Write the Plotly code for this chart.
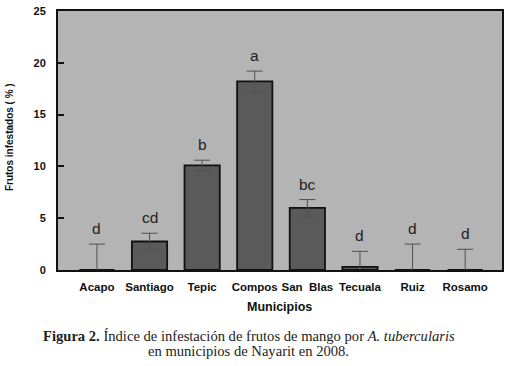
import plotly.graph_objects as go

municipios = ["Acapo", "Santiago", "Tepic", "Compos", "San  Blas", "Tecuala", "Ruiz", "Rosamo"]
frutos_infestados = [0.0, 2.75, 10.1, 18.2, 6.0, 0.3, 0.0, 0.0]
error_sup = [2.5, 0.8, 0.5, 1.0, 0.8, 1.5, 2.5, 2.0]
letras = ["d", "cd", "b", "a", "bc", "d", "d", "d"]
y_ticks = [0, 5, 10, 15, 20, 25]

xs = list(range(len(municipios)))

fig = go.Figure()
fig.add_trace(go.Bar(
    x=xs, y=frutos_infestados, width=0.67,
    marker=dict(color="#5a5a5a", line=dict(color="#111111", width=1.8)),
    error_y=dict(type="data", array=error_sup, symmetric=True,
                 color="#505050", thickness=1, width=8),
    showlegend=False,
))

annotations = []
for xi, v, e, t in zip(xs, frutos_infestados, error_sup, letras):
    annotations.append(dict(x=xi, y=v + e, xref="x", yref="y", text=t,
                            showarrow=False, xanchor="center", yanchor="bottom", yshift=5,
                            font=dict(family="Liberation Sans, Arial", size=15.5, color="#222222")))

annotations += [
    dict(text="<b>Frutos infestados ( % )</b>", xref="paper", yref="paper",
         x=(9 - 58) / 444, y=(270 - 134) / 265, textangle=-90, showarrow=False,
         xanchor="center", yanchor="middle",
         font=dict(family="Liberation Sans, Arial", size=10, color="#111111")),
    dict(text="<b>Municipios</b>", xref="paper", yref="paper",
         x=0.498, y=-0.143, showarrow=False, xanchor="center", yanchor="middle",
         font=dict(family="Liberation Sans, Arial", size=12.5, color="#111111")),
    dict(text="<b>Figura 2.</b> Índice de infestación de frutos de mango por <i>A. tubercularis</i>",
         xref="paper", yref="paper", x=0.43, y=(270 - 338) / 265, showarrow=False,
         xanchor="center", yanchor="middle",
         font=dict(family="Liberation Serif, Times New Roman", size=14.6, color="#222222")),
    dict(text="en municipios de Nayarit en 2008.",
         xref="paper", yref="paper", x=0.43, y=(270 - 353) / 265, showarrow=False,
         xanchor="center", yanchor="middle",
         font=dict(family="Liberation Serif, Times New Roman", size=14.6, color="#222222")),
]

fig.update_layout(
    width=509, height=366,
    margin=dict(l=58, r=7, t=5, b=96),
    paper_bgcolor="white", plot_bgcolor="#b4b4b4",
    annotations=annotations,
    xaxis=dict(range=[-0.74, 7.70], tickvals=xs, ticktext=[f"<b>{m}</b>" for m in municipios],
               tickangle=0,
               showline=True, linecolor="#111111", linewidth=2, mirror=True,
               ticks="", showgrid=False, zeroline=False, ticklabelstandoff=5,
               tickfont=dict(family="Liberation Sans, Arial", size=11.5, color="#111111")),
    yaxis=dict(range=[0, 25], tickvals=y_ticks, ticktext=[f"<b>{t}</b>" for t in y_ticks],
               showline=True, linecolor="#111111", linewidth=2, mirror=True,
               ticks="inside", ticklen=6, tickwidth=2, tickcolor="#111111",
               showgrid=False, zeroline=False, ticklabelstandoff=8,
               tickfont=dict(family="Liberation Sans, Arial", size=11, color="#111111")),
)

fig.write_html("out.html", post_script="document.body.style.margin='0px';",
               config={"displayModeBar": False})
